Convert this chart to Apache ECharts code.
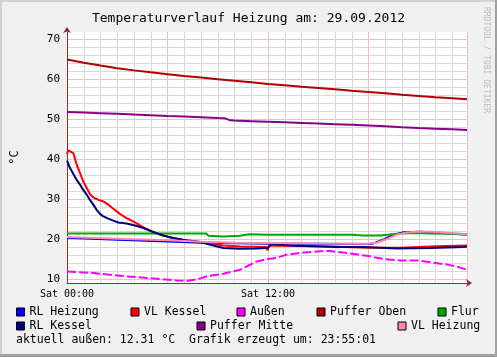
<!DOCTYPE html>
<html><head><meta charset="utf-8">
<script src="https://cdn.jsdelivr.net/npm/echarts@6/dist/echarts.min.js"></script>
<style>html,body{margin:0;padding:0;background:#F0F0F0}#c{width:497px;height:357px}</style>
</head><body><div id="c"></div>
<script>
// ---- data (hours since Sat 00:00, °C) ----
const xTickValues = [0, 12];
const xTickLabels = ['Sat 00:00', 'Sat 12:00'];
const yLabelValues = [10, 20, 30, 40, 50, 60, 70];
const yMinorValues = [10,12,14,16,18,20,22,24,26,28,30,32,34,36,38,40,42,44,46,48,50,52,54,56,58,60,62,64,66,68,70];

const rlHeizungT = [0, 3, 6, 8, 10, 12, 15, 18, 18.3, 18.9, 19.5, 20.1, 21.1, 22.1, 23.88];
const rlHeizungV = [20.35, 19.8, 19.4, 19.1, 18.95, 18.85, 18.8, 18.75, 18.9, 19.9, 21.1, 21.7, 21.8, 21.6, 21.1];

const vlKesselT = [0, 0.08, 0.18, 0.38, 0.58, 0.78, 0.97, 1.18, 1.37, 1.57, 1.87, 2.17, 2.47, 2.76, 3.16, 3.56, 4.06, 4.56, 5.15, 5.55, 6.15, 6.94, 7.74, 8.34, 9.34, 10.34, 11.9, 11.97, 12.05, 13.1, 16, 18, 20, 22, 23.88];
const vlKesselV = [41.2, 42.2, 42.6, 41.5, 38.6, 36.5, 34.4, 32.75, 31.25, 30.4, 29.8, 29.4, 28.6, 27.6, 26.3, 25.25, 24.15, 22.9, 21.75, 21.1, 20.4, 19.75, 19.4, 19.1, 18.4, 18.15, 18.0, 17.15, 18.4, 18.3, 18.1, 17.85, 17.85, 18.2, 18.4];

const aussenT = [0, 1.58, 3.56, 5.55, 6.54, 7.14, 7.94, 8.34, 9.34, 10.33, 10.9, 11.33, 12.0, 12.5, 13.1, 14.3, 15.3, 15.7, 16.7, 17.9, 18.9, 19.9, 20.9, 21.7, 22.7, 23.3, 23.88];
const aussenV = [11.9, 11.5, 10.65, 10.0, 9.65, 9.5, 10.1, 10.7, 11.3, 12.3, 13.5, 14.4, 15.0, 15.25, 16.1, 16.7, 17.0, 17.0, 16.5, 15.8, 15.0, 14.6, 14.65, 14.2, 13.6, 13.1, 12.31];

const pufferObenT = [0,1,2,3,4,5,6,7,8,9,10,11,12,13,14,15,16,17,18,19,20,21,22,23,23.88];
const pufferObenV = [64.9, 64.1, 63.4, 62.75, 62.2, 61.7, 61.25, 60.8, 60.4, 60.0, 59.6, 59.2, 58.8, 58.45, 58.1, 57.8, 57.45, 57.1, 56.8, 56.45, 56.1, 55.8, 55.5, 55.25, 55.0];

const flurT = [0, 8.3, 8.45, 9.3, 10.3, 10.9, 12, 17, 17.7, 18.7, 19.7, 20.7, 21.7, 23.88];
const flurV = [21.4, 21.4, 20.8, 20.65, 20.8, 21.2, 21.1, 21.1, 20.9, 20.9, 21.3, 21.5, 21.4, 21.25];

const rlKesselT = [0, 0.18, 0.38, 0.58, 0.78, 0.97, 1.18, 1.37, 1.57, 1.77, 1.97, 2.17, 2.47, 2.76, 3.06, 3.56, 4.06, 4.56, 5.15, 5.75, 6.35, 7.15, 7.94, 8.44, 9.33, 10.33, 11.33, 11.98, 12.2, 13.3, 15.3, 16.3, 17.7, 19.7, 21.7, 23.7, 23.88];
const rlKesselV = [39.6, 37.75, 36.25, 34.8, 33.6, 32.3, 31.1, 29.8, 28.6, 27.3, 26.3, 25.65, 25.1, 24.6, 24.15, 23.9, 23.4, 22.75, 21.75, 20.9, 20.25, 19.65, 19.25, 18.7, 17.75, 17.6, 17.65, 17.75, 18.75, 18.4, 18.15, 18.0, 18.0, 17.65, 17.75, 18.0, 18.1];

const pufferMitteT = [0,1,2,3,4,5,6,7,8,9,9.4,9.75,10,11,12,13,14,15,16,17,18,19,20,21,22,23,23.88];
const pufferMitteV = [51.8,51.65,51.5,51.35,51.15,51.0,50.8,50.65,50.5,50.3,50.25,49.7,49.65,49.5,49.35,49.2,49.05,48.9,48.75,48.6,48.4,48.2,47.95,47.75,47.6,47.45,47.3];

const vlHeizungT = [0, 3, 6, 8, 10, 12, 15, 18, 18.5, 19.1, 19.7, 20.3, 21.1, 22.1, 23.88];
const vlHeizungV = [20.5, 20.1, 19.7, 19.3, 19.1, 19.0, 18.9, 18.85, 19.1, 20.0, 21.1, 21.65, 21.9, 21.75, 21.2];

const seriesNames = ['RL Heizung','VL Kessel','Außen','Puffer Oben','Flur','RL Kessel','Puffer Mitte','VL Heizung'];
// ---------------------------------------------

const MONO = 'DejaVu Sans Mono';
const zip = (t, v) => t.map((x, i) => [x, v[i]]);
const colors = ['#0000FF','#FF0000','#FF00FF','#B00000','#00A800','#000080','#880088','#FF88AA'];
const dataSets = [zip(rlHeizungT, rlHeizungV), zip(vlKesselT, vlKesselV), zip(aussenT, aussenV),
  zip(pufferObenT, pufferObenV), zip(flurT, flurV), zip(rlKesselT, rlKesselV),
  zip(pufferMitteT, pufferMitteV), zip(vlHeizungT, vlHeizungV)];

const legendPos = [[16,306],[130.5,306],[236.5,306],[316.5,306],[437.5,306],[16,320],[196.5,320],[397.5,320]];
const legends = seriesNames.map((n, i) => ({
  data: [n], left: legendPos[i][0], top: legendPos[i][1], padding: 0,
  icon: 'rect', itemWidth: 8, itemHeight: 8, selectedMode: false,
  itemStyle: { borderColor: '#000', borderWidth: 1 },
  textStyle: { fontFamily: MONO, fontSize: 11.5, color: '#000' }
}));

const XMAX = 23.88, YMIN = 9, YMAX = 71.8;
const chart = echarts.init(document.getElementById('c'), null, { renderer: 'canvas' });
const lastAussen = aussenV[aussenV.length - 1].toFixed(2);
chart.setOption({
  animation: false,
  backgroundColor: '#F0F0F0',
  title: { text: 'Temperaturverlauf Heizung am: 29.09.2012', left: 'center', top: 7,
    textStyle: { fontFamily: MONO, fontSize: 13, fontWeight: 'normal', color: '#000' } },
  legend: legends,
  grid: { left: 67, top: 32, width: 400, height: 251, show: true, backgroundColor: '#FFFFFF', borderWidth: 0,
    containLabel: false, outerBoundsMode: 'none' },
  xAxis: [
    { type: 'value', min: 0, max: XMAX, interval: 1, position: 'bottom',
      axisLine: { show: true, lineStyle: { color: '#8a3030', width: 1 }, symbol: ['none','arrow'], symbolSize: [6, 6], symbolOffset: [0, 5] },
      axisTick: { show: false },
      splitLine: { show: true, lineStyle: { color: '#D8D8D8', width: 1 } },
      axisLabel: { customValues: xTickValues, formatter: v => xTickLabels[xTickValues.indexOf(v)] || '',
        fontFamily: MONO, fontSize: 10, color: '#000', margin: 6 } },
    { type: 'value', min: 0, max: XMAX, interval: 6, position: 'top',
      axisLine: { show: false }, axisTick: { show: false }, axisLabel: { show: false },
      splitLine: { show: true, lineStyle: { color: '#F4BCBC', width: 1 } } }
  ],
  yAxis: [
    { type: 'value', min: YMIN, max: YMAX, position: 'left',
      name: '°C', nameLocation: 'middle', nameRotate: 90, nameGap: 46,
      nameTextStyle: { fontFamily: MONO, fontSize: 12, color: '#000' },
      axisLine: { show: true, lineStyle: { color: '#8a3030', width: 1 }, symbol: ['none','arrow'], symbolSize: [6, 6], symbolOffset: [0, 5] },
      axisTick: { show: false, customValues: yMinorValues },
      splitLine: { show: true, lineStyle: { color: '#D8D8D8', width: 1 } },
      axisLabel: { customValues: yLabelValues, fontFamily: MONO, fontSize: 11, color: '#000', margin: 7 } },
    { type: 'value', min: YMIN, max: YMAX, position: 'right',
      axisLine: { show: false }, axisLabel: { show: false },
      axisTick: { show: false, customValues: yLabelValues },
      splitLine: { show: true, lineStyle: { color: '#F4BCBC', width: 1 } } }
  ],
  series: seriesNames.map((n, i) => ({
    name: n, type: 'line', data: dataSets[i], xAxisIndex: 0, yAxisIndex: 0,
    showSymbol: false, symbol: 'none', color: colors[i], smooth: false,
    lineStyle: { width: 2, color: colors[i], type: i === 2 ? [9, 3] : 'solid' },
    z: 3 + i
  })),
  graphic: [
    { type: 'rect', shape: { x: 0, y: 0, width: 497, height: 2 }, style: { fill: '#D2D2D2' }, silent: true },
    { type: 'rect', shape: { x: 0, y: 0, width: 2, height: 357 }, style: { fill: '#D2D2D2' }, silent: true },
    { type: 'rect', shape: { x: 0, y: 354, width: 497, height: 3 }, style: { fill: '#A0A0A0' }, silent: true },
    { type: 'rect', shape: { x: 495, y: 0, width: 2, height: 357 }, style: { fill: '#A0A0A0' }, silent: true },
    { type: 'text', x: 486, y: 7, rotation: -Math.PI / 2,
      style: { text: 'RRDTOOL / TOBI OETIKER', fontFamily: MONO, fontSize: 8, fill: '#BDBDBD', align: 'left', verticalAlign: 'middle' } },
    { type: 'text', left: 16, top: 334,
      style: { text: 'aktuell außen: ' + lastAussen + ' °C  Grafik erzeugt um: 23:55:01', fontFamily: MONO, fontSize: 11.5, fill: '#000' } }
  ]
});
</script></body></html>
